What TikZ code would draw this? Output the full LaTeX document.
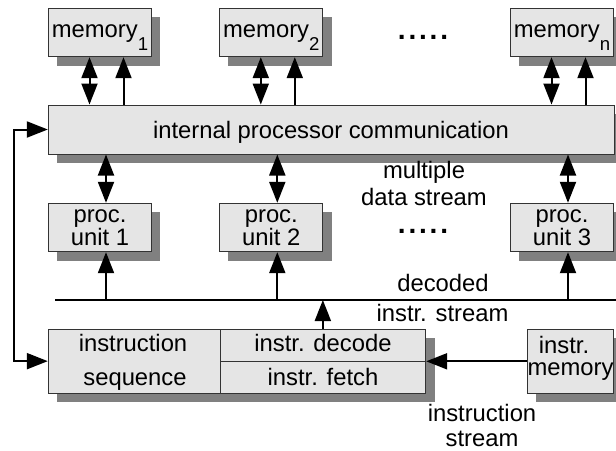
\documentclass[tikz,border=0pt]{standalone}
\usepackage{fontspec}
\setmainfont{Liberation Sans}
\usetikzlibrary{arrows.meta,calc,shadows}
\definecolor{boxfill}{HTML}{E5E5E5}
\definecolor{shadowc}{HTML}{808080}
\definecolor{boxline}{HTML}{333333}
\newcommand{\memsub}[1]{\raisebox{-6.7pt}{\fontsize{9.3}{9.3}\selectfont #1}}
\newcommand{\fivedots}{.\hspace{1.4pt}.\hspace{1.4pt}.\hspace{1.4pt}.\hspace{1.4pt}.}
\begin{document}
\begin{tikzpicture}[x=0.5pt,y=-0.5pt,
  >={Triangle[length=10.5pt,width=8pt]},
  box/.style={draw=boxline,line width=0.5pt,fill=boxfill,inner sep=0pt,
    drop shadow={shadow xshift=4.4pt,shadow yshift=-4.4pt,fill=shadowc,opacity=1}},
  smallbox/.style={box,minimum width=51.65pt,minimum height=24.2pt},
  txt/.style={anchor=base,inner sep=0pt,font=\fontsize{11.9}{12}\selectfont},
  dotstxt/.style={anchor=base,inner sep=0pt,font=\fontsize{14}{14}\selectfont\bfseries},
  arr/.style={line width=1pt,->},
  dbl/.style={line width=1pt,<->},
  busline/.style={line width=1pt}]
\useasboundingbox (0,0) rectangle (616,450);

% boxes
\node[smallbox] (m1) at (100,32.5) {};
\node[smallbox] (m2) at (271.3,32.5) {};
\node[smallbox] (mn) at (562,32.5) {};
\node[box,minimum width=282.85pt,minimum height=24.5pt] (bar) at (331.15,129.5) {};
\node[smallbox] (p1) at (100,227.5) {};
\node[smallbox] (p2) at (271.3,227.5) {};
\node[smallbox] (p3) at (562,227.5) {};
\node[box,minimum width=85.85pt,minimum height=32.15pt] (seq) at (134.15,361.15) {};
\node[box,minimum width=102.85pt,minimum height=16.1pt] (decode) at (322.85,345.1) {};
\node[box,minimum width=102.85pt,minimum height=16.1pt] (fetch) at (322.85,377.2) {};
\node[box,minimum width=43pt,minimum height=32pt] (im) at (570.3,361.3) {};

% texts
\node[txt] (tm1) at (100,37.3) {memory\memsub{1}};
\node[txt] (tm2) at (271.3,37.3) {memory\memsub{2}};
\node[txt] (tmn) at (562,37.3) {memory\memsub{n}};
\node[dotstxt] (dtop) at (423,39) {\fivedots};
\node[txt] (tbar) at (331,138.3) {internal processor communication};
\node[txt] (tmul1) at (424,178) {multiple};
\node[txt] (tmul2) at (424,205) {data stream};
\node[txt] (tp1a) at (100,222.3) {proc.};
\node[txt] (tp1b) at (100,245) {unit 1};
\node[txt] (tp2a) at (271.3,222.3) {proc.};
\node[txt] (tp2b) at (271.3,245) {unit 2};
\node[txt] (tp3a) at (562,222.3) {proc.};
\node[txt] (tp3b) at (562,245) {unit 3};
\node[dotstxt] (dmid) at (423,233.5) {\fivedots};
\node[txt] (tdec1) at (443,291.7) {decoded};
\node[txt] (tdec2) at (442.5,321.7) {instr. stream};
\node[txt] (tseq1) at (133,351.7) {instruction};
\node[txt] (tseq2) at (135,385) {sequence};
\node[txt] (tdecode) at (323,351.7) {instr. decode};
\node[txt] (tfetch) at (323,385) {instr. fetch};
\node[txt] (tim1) at (564,353.3) {instr.};
\node[txt] (tim2) at (570.5,375) {memory};
\node[txt] (tis1) at (482,421) {instruction};
\node[txt] (tis2) at (482,446.7) {stream};

% helper coordinates
\foreach \m in {m1,m2,mn}{
  \coordinate (\m d) at ($(\m.south)+(-10.5,0)$);
  \coordinate (\m u) at ($(\m.south)+(23.5,0)$);
}
\foreach \p in {p1,p2,p3}{
  \coordinate (\p x) at ($(\p.south)+(6,0)$);
}
\coordinate (busL) at (55,300);
\coordinate (busR) at (616,300);
\coordinate (fb) at (14,0);

% memory <-> bar
\foreach \m in {m1,m2,mn}{
  \draw[dbl] (\m.south -| \m d) -- (bar.north -| \m d);
  \draw[arr] (bar.north -| \m u) -- (\m.south -| \m u);
}
% bar <-> proc units, bus -> proc units
\draw[busline] (busL) -- (busR);
\foreach \p in {p1,p2,p3}{
  \draw[dbl] (bar.south -| \p x) -- (\p.north -| \p x);
  \draw[arr] (busL -| \p x) -- (\p x);
}
% decode -> bus
\draw[arr] (decode.north) -- (busL -| decode.north);
% instr memory -> fetch/decode
\draw[arr] (im.west) -- (im.west -| fetch.north east);
% feedback loop
\draw[dbl] (seq.west) -- (seq.west -| fb) -- (bar.west -| fb) -- (bar.west);
\end{tikzpicture}
\end{document}
